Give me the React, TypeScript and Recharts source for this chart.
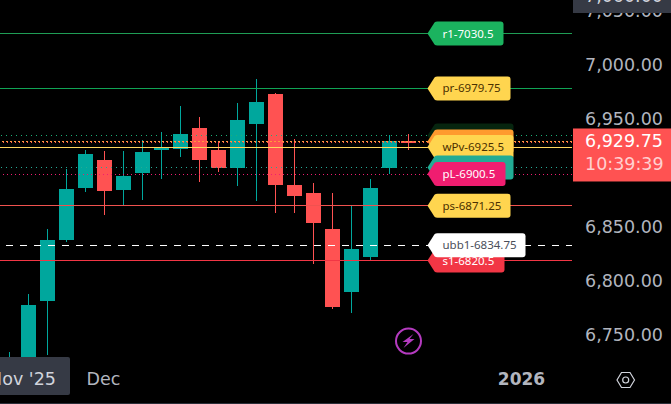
import React from "react";
import { ComposedChart, Bar, XAxis, YAxis, ReferenceLine, ReferenceDot } from "recharts";

const opens = [6729, 6729, 6783, 6839.25, 6887.5, 6913.25, 6885.5, 6901.25, 6922.5, 6923.5, 6943, 6922.5, 6906, 6946.5, 6974.25, 6890.25, 6882.75, 6849.5, 6791.25, 6823.5, 6906, 6931.25];
const closes = [6730.5, 6779.25, 6839.25, 6886.5, 6918.75, 6884.5, 6898.5, 6920.75, 6925, 6937.25, 6913.25, 6906, 6950.25, 6967, 6890.25, 6880, 6855, 6777.25, 6831, 6887.5, 6931, 6929.75];
const highs = [6735.5, 6790, 6849.5, 6905, 6922.5, 6921.5, 6921.5, 6931.75, 6939.25, 6963.25, 6953, 6931, 6966, 6988.25, 6975.25, 6932.75, 6892, 6882.75, 6871.75, 6895.75, 6936.5, 6937.25];
const lows = [6728.5, 6728.5, 6733, 6837.75, 6883.75, 6862.5, 6871, 6876.25, 6895.75, 6916, 6893, 6902.25, 6889.25, 6875.5, 6864.25, 6864.25, 6817, 6775.5, 6771.75, 6820, 6900.25, 6922.5];

const priceTicks = [7050, 7000, 6950, 6900, 6850, 6800, 6750];
const timeTicks = [1, 5, 27];
const timeLabels: Record<number, string> = { 1: "Nov '25", 5: "Dec", 27: "2026" };

const lastPrice = 6929.75;
const countdown = "10:39:39";
const crosshairPrice = 7060;

const solidLines = [
  { v: 7030.5, c: "#1f9d55" },
  { v: 6979.75, c: "#10a455" },
  { v: 6925.5, c: "#ffd75e" },
  { v: 6871.25, c: "#f0524f" },
  { v: 6820.5, c: "#f23645" },
];
const dottedLines = [
  { v: 6936.25, c: "#1bb078", d: "1 4" },
  { v: 6930.75, c: "#ff9a3c", d: "2 2" },
  { v: 6929.75, c: "#ff5252", d: "1 3" },
  { v: 6906.5, c: "#22ab94", d: "1 4" },
  { v: 6900.5, c: "#f01d70", d: "1 3" },
];

const tags = [
  { v: 7030.5, t: "r1-7030.5", bg: "#1bb35f", fg: "#ffffff", w: 76 },
  { v: 6979.75, t: "pr-6979.75", bg: "#ffd54f", fg: "#4a3000", w: 83 },
  { v: 6936.25, t: "", bg: "#06250f", fg: "#ffffff", w: 86 },
  { v: 6930.75, t: "", bg: "#ff9a2e", fg: "#ffffff", w: 86 },
  { v: 6925.5, t: "wPv-6925.5", bg: "#ffd54f", fg: "#4a3000", w: 86 },
  { v: 6906.5, t: "", bg: "#22ab94", fg: "#ffffff", w: 86 },
  { v: 6900.5, t: "pL-6900.5", bg: "#f01d70", fg: "#ffffff", w: 78 },
  { v: 6871.25, t: "ps-6871.25", bg: "#ffd54f", fg: "#4a3000", w: 83 },
  { v: 6820.5, t: "s1-6820.5", bg: "#f23645", fg: "#ffffff", w: 77 },
  { v: 6834.75, t: "ubb1-6834.75", bg: "#ffffff", fg: "#4a4e5a", w: 98 },
];

const UP = "#00a79d";
const DOWN = "#ff5252";
const TICK = "#b2b5be";
const FONT = "'DejaVu Sans', sans-serif";
const TAG_FONT = "'Noto Sans', sans-serif";

const rows = opens.map((o, i) => ({
  i,
  open: o,
  close: closes[i],
  high: highs[i],
  low: lows[i],
  range: [lows[i], highs[i]],
}));

const Candle = (props: any) => {
  const { x, y, width, height, payload } = props;
  const { open, close, high, low } = payload;
  const ppu = height / (high - low);
  const cx = x + width / 2;
  const color = close >= open ? UP : DOWN;
  const top = y + (high - Math.max(open, close)) * ppu;
  const bodyH = Math.max(Math.abs(open - close) * ppu, 2);
  return (
    <g shapeRendering="crispEdges">
      <rect x={cx - 0.5} y={y} width={1} height={height} fill={color} />
      <rect x={cx - 7.5} y={top} width={15} height={bodyH} fill={color} />
    </g>
  );
};

const tagShape = (tag: (typeof tags)[number]) => (props: any) => {
  const { cx, cy } = props;
  const x0 = cx;
  const b = x0 + 7;
  const r = x0 + tag.w;
  const t = cy - 12;
  const e = cy + 12;
  const d = `M${x0} ${cy} L${b} ${t + 1} Q${b + 1} ${t} ${b + 3} ${t} L${r - 3} ${t} Q${r} ${t} ${r} ${t + 3} L${r} ${e - 3} Q${r} ${e} ${r - 3} ${e} L${b + 3} ${e} Q${b + 1} ${e} ${b} ${e - 1} Z`;
  return (
    <g>
      <path d={d} fill={tag.bg} />
      {tag.t ? (
        <text x={x0 + 15} y={cy + 4} fontFamily={TAG_FONT} fontSize={11.5} fill={tag.fg}>
          {tag.t}
        </text>
      ) : null}
    </g>
  );
};

const PriceTick = (props: any) => {
  const { x, y, payload } = props;
  const s = payload.value.toLocaleString("en-US", { minimumFractionDigits: 2 });
  return (
    <text x={x + 5} y={y + 4} fontFamily={FONT} fontSize={17.5} fill={TICK}>
      {s}
    </text>
  );
};

const TimeTick = (props: any) => {
  const { x, y, payload } = props;
  const label = timeLabels[payload.value];
  if (payload.value === 1) {
    return (
      <g>
        <rect x={-6} y={y - 11} width={76} height={38} rx={2} fill="#363a45" />
        <text x={x - 6} y={y + 17} textAnchor="middle" fontFamily={FONT} fontSize={17.5} fill="#d1d4dc">
          {label}
        </text>
      </g>
    );
  }
  return (
    <text
      x={x - 1}
      y={y + 17}
      textAnchor="middle"
      fontFamily={FONT}
      fontSize={payload.value === 27 ? 17 : 17.5}
      fontWeight={payload.value === 27 ? 700 : 400}
      fill={TICK}
    >
      {label}
    </text>
  );
};

const PriceBadge = (props: any) => {
  const { cx, cy } = props;
  return (
    <g>
      <rect x={cx + 1} y={cy - 14} width={98} height={53} fill="#ff5252" />
      <text x={cx + 13} y={cy + 5} fontFamily={FONT} fontSize={17.5} fill="#ffffff">
        {lastPrice.toLocaleString("en-US", { minimumFractionDigits: 2 })}
      </text>
      <text x={cx + 13} y={cy + 28} fontFamily={FONT} fontSize={17.5} fill="#ffd0d0">
        {countdown}
      </text>
    </g>
  );
};

const CrosshairBadge = (props: any) => {
  const { cx, cy } = props;
  return (
    <g>
      <rect x={cx + 1} y={cy} width={98} height={13} fill="#363a45" />
      <text x={cx + 13} y={cy + 2} fontFamily={FONT} fontSize={17.5} fill="#d1d4dc">
        {crosshairPrice.toLocaleString("en-US", { minimumFractionDigits: 2 })}
      </text>
    </g>
  );
};

const BoltIcon = (props: any) => {
  const { cx, cy } = props;
  return (
    <g>
      <circle cx={cx} cy={cy} r={12.5} fill="none" stroke="#b53bc0" strokeWidth={2} />
      <path
        d={`M${cx + 5} ${cy - 7} L${cx - 6} ${cy + 1} L${cx - 1} ${cy + 1} L${cx - 5} ${cy + 7} L${cx + 6} ${cy - 2} L${cx + 1} ${cy - 2} Z`}
        fill="#b53bc0"
      />
    </g>
  );
};

const SettingsIcon = () => (
  <svg style={{ position: "absolute", left: 0, top: 0 }} width={671} height={404}>
    <path d="M617 380 L621.5 372.5 L630 372.5 L634.5 380 L630 387.5 L621.5 387.5 Z" fill="none" stroke="#d1d4dc" strokeWidth={1.2} />
    <circle cx={625.7} cy={380} r={3} fill="none" stroke="#d1d4dc" strokeWidth={1.2} />
    <rect x={0} y={403} width={671} height={1} fill="#2a2e39" />
  </svg>
);

export default function App() {
  const extra: any = { zIndex: 2000 };
  return (
    <div style={{ position: "absolute", left: 0, top: 0, width: 671, height: 404, background: "#000", overflow: "hidden" }}>
      <ComposedChart width={671} height={404} data={rows} margin={{ top: 0, right: 0, bottom: 0, left: 0 }}>
        <XAxis
          dataKey="i"
          type="number"
          domain={[-0.5, 29.605]}
          ticks={timeTicks}
          interval={0}
          height={44}
          axisLine={false}
          tickLine={false}
          tick={<TimeTick />}
        />
        <YAxis
          orientation="right"
          type="number"
          domain={[6728.68, 7061.58]}
          ticks={priceTicks}
          interval={0}
          width={99}
          axisLine={false}
          tickLine={false}
          tick={<PriceTick />}
        />
        {solidLines.map((l) => (
          <ReferenceLine key={l.v} y={l.v} stroke={l.c} strokeWidth={1} shapeRendering="crispEdges" />
        ))}
        {dottedLines.map((l) => (
          <ReferenceLine key={l.v} y={l.v} stroke={l.c} strokeWidth={1} strokeDasharray={l.d} shapeRendering="crispEdges" />
        ))}
        <ReferenceLine
          segment={[{ x: -0.18, y: 6834.75 }, { x: 29.605, y: 6834.75 }]}
          stroke="#ffffff"
          strokeWidth={1}
          strokeDasharray="7 7"
          shapeRendering="crispEdges"
        />
        <Bar dataKey="range" barSize={15} shape={<Candle />} isAnimationActive={false} />
        {tags.map((tag) => (
          <ReferenceDot key={tag.v} x={22} y={tag.v} r={1} ifOverflow="visible" shape={tagShape(tag)} />
        ))}
        <ReferenceDot x={21} y={6746} r={1} ifOverflow="visible" shape={<BoltIcon />} />
        <ReferenceDot {...extra} x={29.605} y={lastPrice} r={1} ifOverflow="visible" shape={<PriceBadge />} />
        <ReferenceDot {...extra} x={29.605} y={7061.58} r={1} ifOverflow="visible" shape={<CrosshairBadge />} />
      </ComposedChart>
      <SettingsIcon />
    </div>
  );
}
